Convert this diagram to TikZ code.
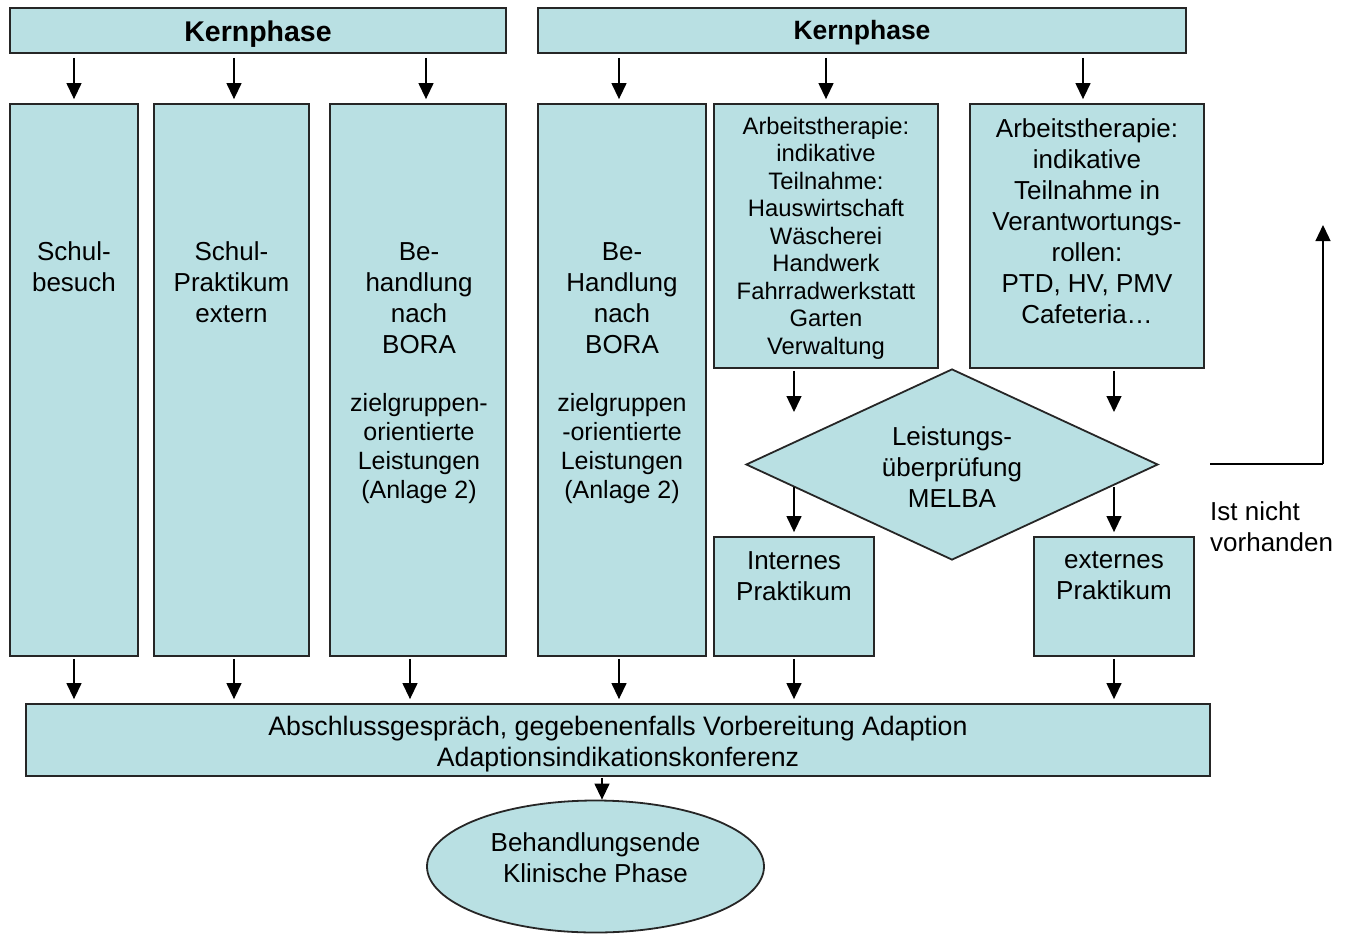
\documentclass[tikz,border=0pt]{standalone}
\usepackage{fontspec}
\setmainfont{Liberation Sans}
\usetikzlibrary{shapes.geometric,arrows.meta}
\definecolor{boxfill}{RGB}{185,224,227}
\newcommand{\fA}{\fontsize{26}{31}\selectfont}
\newcommand{\fB}{\fontsize{23.8}{27.5}\selectfont}
\newcommand{\fC}{\fontsize{25}{29}\selectfont}
\tikzset{
  boxst/.style={draw=black!85, fill=boxfill, line width=1.8pt, inner sep=0pt, rectangle},
  txt/.style={align=center, inner sep=0pt},
  arr/.style={line width=1.3pt, -{Triangle[width=15pt,length=16pt]}},
  plain/.style={line width=1.3pt}
}
\begin{document}
\begin{tikzpicture}[x=1pt,y=-1pt]
\useasboundingbox (0,0) rectangle (1349,937);
% boxes
\node[boxst, minimum width=496, minimum height=45] (H1) at (258,30.5) {};
\node[boxst, minimum width=648, minimum height=45] (H2) at (862,30.5) {};
\node[boxst, minimum width=128, minimum height=552] (B1) at (74,380) {};
\node[boxst, minimum width=155, minimum height=552] (B2) at (231.5,380) {};
\node[boxst, minimum width=176, minimum height=552] (B3) at (418,380) {};
\node[boxst, minimum width=168, minimum height=552] (B4) at (622,380) {};
\node[boxst, minimum width=224, minimum height=264] (B5) at (826,236) {};
\node[boxst, minimum width=234, minimum height=264] (B6) at (1087,236) {};
\node[boxst, shape=diamond, minimum width=412, minimum height=191] (D) at (952,464.5) {};
\node[boxst, minimum width=160, minimum height=119] (Int) at (794,596.5) {};
\node[boxst, minimum width=160, minimum height=119] (Ext) at (1114,596.5) {};
\node[boxst, minimum width=1184, minimum height=72] (Bot) at (618,740) {};
\node[boxst, shape=ellipse, minimum width=337, minimum height=132] (E) at (595.5,866.5) {};
% texts
\node[txt, font=\fontsize{28.5}{32}\selectfont\bfseries] (tH1) at (258,34) {Kernphase};
\node[txt, font=\fontsize{26.5}{32}\selectfont\bfseries] (tH2) at (862,33) {Kernphase};
\node[txt, font=\fA] (t1) at (74,267) {Schul-\\besuch};
\node[txt, font=\fA] (t2) at (231.5,282.5) {Schul-\\Praktikum\\extern};
\node[txt, font=\fA] (t3a) at (419,298) {Be-\\handlung\\nach\\BORA};
\node[txt, font=\fC] (t3b) at (419,449) {zielgruppen-\\orientierte\\Leistungen\\(Anlage 2)};
\node[txt, font=\fA] (t4a) at (622,298) {Be-\\Handlung\\nach\\BORA};
\node[txt, font=\fC] (t4b) at (622,449) {zielgruppen\\-orientierte\\Leistungen\\(Anlage 2)};
\node[txt, font=\fB] (t5) at (826,238) {Arbeitstherapie:\\indikative\\Teilnahme:\\Hauswirtschaft\\Wäscherei\\Handwerk\\Fahrradwerkstatt\\Garten\\Verwaltung};
\node[txt, font=\fA] (t6) at (1087,221) {Arbeitstherapie:\\indikative\\Teilnahme in\\Verantwortungs-\\rollen:\\PTD, HV, PMV\\Cafeteria…};
\node[txt, font=\fA] (tD) at (952,467) {Leistungs-\\überprüfung\\MELBA};
\node[txt, font=\fA] (tI) at (794,576) {Internes\\Praktikum};
\node[txt, font=\fA] (tX) at (1114,576) {externes\\Praktikum};
\node[txt, font=\fontsize{26.7}{31}\selectfont] (tB) at (618,744) {Abschlussgespräch, gegebenenfalls Vorbereitung Adaption\\Adaptionsindikationskonferenz};
\node[txt, font=\fA] (tE) at (595.5,858) {Behandlungsende\\Klinische Phase};
\node[txt, font=\fA, align=left, anchor=west] (tN) at (1210,527) {Ist nicht\\vorhanden};
% coordinates
\coordinate (a5) at (794,412);
\coordinate (a6) at (1114,412);
\coordinate (d5) at (794,487);
\coordinate (d6) at (1114,487);
\coordinate (r1) at (1210,464);
\coordinate (r2) at (1323,464);
\coordinate (r3) at (1323,225);
% top arrows
\draw[arr, shorten <=4pt, shorten >=4pt] (H1.south -| B1.north) -- (B1.north);
\draw[arr, shorten <=4pt, shorten >=4pt] ([xshift=2.5pt]H1.south -| B2.north) -- ([xshift=2.5pt]B2.north);
\draw[arr, shorten <=4pt, shorten >=4pt] ([xshift=8pt]H1.south -| B3.north) -- ([xshift=8pt]B3.north);
\draw[arr, shorten <=4pt, shorten >=4pt] ([xshift=-3pt]H2.south -| B4.north) -- ([xshift=-3pt]B4.north);
\draw[arr, shorten <=4pt, shorten >=4pt] (H2.south -| B5.north) -- (B5.north);
\draw[arr, shorten <=4pt, shorten >=4pt] ([xshift=-4pt]H2.south -| B6.north) -- ([xshift=-4pt]B6.north);
% to/from diamond
\draw[arr, shorten <=2pt] (B5.south -| a5) -- (a5);
\draw[arr, shorten <=2pt] (B6.south -| a6) -- (a6);
\draw[arr, shorten >=4pt] (d5) -- (Int.north);
\draw[arr, shorten >=4pt] (d6) -- (Ext.north);
% bottom arrows
\draw[arr, shorten <=2pt, shorten >=4pt] (B1.south) -- (Bot.north -| B1.south);
\draw[arr, shorten <=2pt, shorten >=4pt] ([xshift=2.5pt]B2.south) -- ([xshift=2.5pt]Bot.north -| B2.south);
\draw[arr, shorten <=2pt, shorten >=4pt] ([xshift=-8pt]B3.south) -- ([xshift=-8pt]Bot.north -| B3.south);
\draw[arr, shorten <=2pt, shorten >=4pt] ([xshift=-3pt]B4.south) -- ([xshift=-3pt]Bot.north -| B4.south);
\draw[arr, shorten <=2pt, shorten >=4pt] (Int.south) -- (Bot.north -| Int.south);
\draw[arr, shorten <=2pt, shorten >=4pt] (Ext.south) -- (Bot.north -| Ext.south);
\draw[arr, shorten <=1pt] ([xshift=-16pt]Bot.south) -- ([xshift=6.5pt]E.north);
% right loop
\draw[plain] (r1) -- (r2);
\draw[arr] (r2) -- (r3);
\end{tikzpicture}
\end{document}
